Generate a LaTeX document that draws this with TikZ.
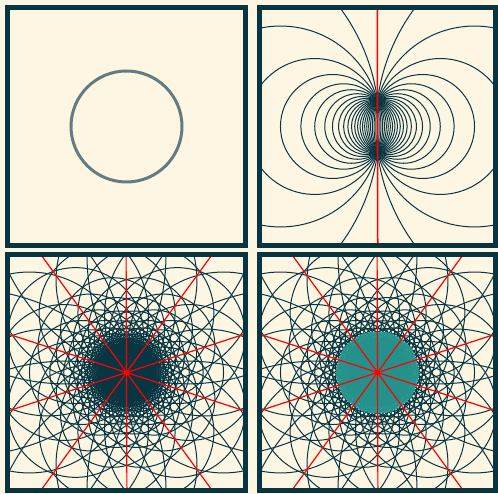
\documentclass[tikz,border=0pt]{standalone}
\definecolor{bgcream}{HTML}{FDF6E3}
\definecolor{framedark}{HTML}{073642}
\definecolor{ringgray}{HTML}{657B83}
\definecolor{tealfill}{HTML}{2AA198}
\definecolor{redline}{HTML}{FF0000}
\begin{document}
\begin{tikzpicture}[x=1pt,y=1pt,
  panelframe/.style={draw=framedark,line width=5pt},
  famcircle/.style={draw=framedark,line width=1pt},
  redaxis/.style={draw=redline,line width=1.2pt},
  reddot/.style={fill=redline}]
\useasboundingbox (0,0) rectangle (498,494);
\fill[bgcream] (0,0) rectangle (498,494);

% ---------- panel 1 ----------
\begin{scope}
\clip (10,251) rectangle (243,484);
\draw[ringgray,line width=3pt] (126.5,367.5) circle[radius=55.5];
\end{scope}
\draw[panelframe] (7.5,248.5) rectangle (245.5,486.5);

% ---------- panel 2 ----------
\begin{scope}
\clip (262,251) rectangle (493,484);
\begin{scope}[shift={(377.5,367.5)}]
\foreach \k in {1,...,23}{
  \draw[famcircle] ({-26*cot(7.5*\k)},0) circle[radius={26/sin(7.5*\k)}];
}
\draw[redaxis,line width=1.6pt] (90.1:200) -- (270.1:200);
\end{scope}
\end{scope}
\draw[panelframe] (259.5,248.5) rectangle (495.5,486.5);

% ---------- panel 3 ----------
\begin{scope}
\clip (10,6) rectangle (243,237);
\begin{scope}[shift={(126.5,121.5)}]
\foreach \rot in {0,36,72,108,144}{
  \foreach \k in {1,...,23}{
    \draw[famcircle] ({-26*cot(7.5*\k)*cos(\rot)},{-26*cot(7.5*\k)*sin(\rot)}) circle[radius={26/sin(7.5*\k)}];
  }
}
\foreach \ang in {18,54,90.2,126,162}{
  \draw[redaxis] (\ang:200) -- (\ang+180:200);
}
\fill[reddot] (0,0) circle[radius=2.8];
\end{scope}
\end{scope}
\draw[panelframe] (7.5,3.5) rectangle (245.5,239.5);

% ---------- panel 4 ----------
\begin{scope}
\clip (262,6) rectangle (493,237);
\begin{scope}[shift={(377.5,121.5)}]
\foreach \rot in {0,36,72,108,144}{
  \foreach \k in {1,...,23}{
    \draw[famcircle] ({-26*cot(7.5*\k)*cos(\rot)},{-26*cot(7.5*\k)*sin(\rot)}) circle[radius={26/sin(7.5*\k)}];
  }
}
\fill[tealfill,fill opacity=0.85]
  \foreach \rot in {0,36,72,108,144}{
    \foreach \k in {8,...,16}{
      ({-24*cot(7.5*\k)*cos(\rot)},{-24*cot(7.5*\k)*sin(\rot)}) circle[radius={24/sin(7.5*\k)}]
    }
  };
\foreach \ang in {18,54,90.2,126,162}{
  \draw[redaxis] (\ang:200) -- (\ang+180:200);
}
\fill[reddot] (0,0) circle[radius=2.8];
\end{scope}
\end{scope}
\draw[panelframe] (259.5,3.5) rectangle (495.5,239.5);
\end{tikzpicture}
\end{document}
